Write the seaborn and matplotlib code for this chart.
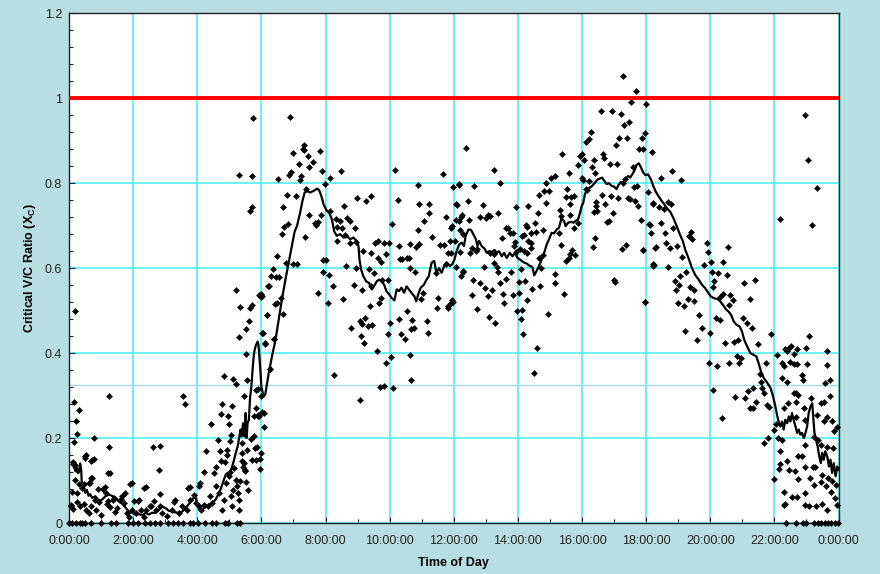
import pandas as pd
import numpy as np
import seaborn as sns
import matplotlib
matplotlib.use('Agg')
import matplotlib.pyplot as plt
from matplotlib.ticker import MultipleLocator, FuncFormatter

# scatter readings (hour of day, critical v/c ratio)
night = [
    (0.18, 0.50), (0.16, 0.285), (0.22, 0.24), (0.32, 0.265), (0.25, 0.21), (0.17, 0.19), (0.14, 0.14),
    (0.52, 0.16), (0.78, 0.20), (0.78, 0.15), (1.24, 0.30), (1.24, 0.178), (1.28, 0.117), (0.72, 0.107),
    (0.61, 0.094), (0.09, 0.072), (0.11, 0.143), (0.20, 0.136), (0.26, 0.125), (0.20, 0.102), (0.30, 0.092),
    (0.39, 0.082), (0.25, 0.071), (0.07, 0.043), (0.14, 0.033), (0.25, 0.049), (0.35, 0.041), (0.46, 0.045),
    (0.54, 0.031), (0.61, 0.024), (0.68, 0.039), (0.80, 0.055), (0.84, 0.031), (0.93, 0.049), (1.01, 0.020),
    (1.06, 0.080), (1.14, 0.071), (1.21, 0.051), (1.27, 0.038), (1.36, 0.055), (1.43, 0.027), (1.50, 0.035),
    (1.66, 0.064), (1.73, 0.047), (1.81, 0.024), (1.86, 0.014), (1.95, 0.031), (2.02, 0.051), (2.09, 0.024),
    (2.18, 0.053), (2.26, 0.031), (2.33, 0.014), (2.41, 0.031), (2.52, 0.039), (2.65, 0.051), (2.70, 0.031),
    (2.83, 0.041), (2.90, 0.024), (3.06, 0.016), (3.20, 0.031), (3.32, 0.053), (3.43, 0.024), (3.53, 0.039),
    (3.69, 0.031), (3.76, 0.055), (3.90, 0.067), (3.97, 0.047), (4.05, 0.039), (4.13, 0.030), (4.21, 0.043),
    (4.34, 0.039), (4.39, 0.063), (4.47, 0.047), (0.72, 0.149), (0.51, 0.158), (0.64, 0.093), (0.91, 0.080),
    (1.11, 0.085), (1.21, 0.118), (1.74, 0.071), (1.95, 0.094), (2.39, 0.085), (2.61, 0.178), (2.83, 0.182),
    (2.82, 0.125), (2.85, 0.069), (3.56, 0.30), (3.61, 0.28), (3.77, 0.085), (4.05, 0.086), (4.10, 0.093),
    (0.05, 0.040), (0.49, 0.154), (0.70, 0.146), (0.47, 0.092), (0.70, 0.106), (1.07, 0.080), (1.17, 0.045),
    (1.40, 0.059), (1.63, 0.057), (1.90, 0.092), (2.34, 0.083), (2.16, 0.052), (2.56, 0.040), (3.28, 0.050),
    (3.72, 0.083),
]
dawn = [
    (4.21, 0.119), (4.26, 0.169), (4.44, 0.233), (4.52, 0.118), (4.59, 0.133), (4.66, 0.195), (4.70, 0.169),
    (4.78, 0.28), (4.75, 0.256), (4.83, 0.345), (4.73, 0.145), (4.86, 0.143), (4.92, 0.161), (4.97, 0.251),
    (4.99, 0.234), (5.04, 0.208), (5.07, 0.275), (5.02, 0.193), (4.94, 0.173), (5.01, 0.119), (5.11, 0.34),
    (5.22, 0.328), (5.15, 0.129), (5.20, 0.102), (5.25, 0.086), (5.32, 0.098), (5.30, 0.031), (5.21, 0.548),
    (5.30, 0.437), (5.34, 0.508), (5.51, 0.456), (5.61, 0.475), (5.64, 0.507), (5.70, 0.514), (5.51, 0.398),
    (5.56, 0.337), (5.47, 0.298), (5.41, 0.188), (5.39, 0.165), (5.41, 0.145), (5.44, 0.133), (5.49, 0.122),
    (5.51, 0.096), (5.59, 0.077), (5.28, 0.071), (5.30, 0.055), (4.59, 0.086), (4.68, 0.071), (4.76, 0.031),
    (4.83, 0.055), (4.89, 0.094), (4.99, 0.11), (5.04, 0.063), (5.07, 0.039), (5.13, 0.077), (5.46, 0.141),
    (5.49, 0.125), (5.54, 0.173), (5.67, 0.198), (5.77, 0.204), (5.80, 0.176), (5.84, 0.149), (5.72, 0.149),
    (5.76, 0.251), (5.82, 0.314), (5.88, 0.251), (5.93, 0.251), (5.93, 0.536), (5.98, 0.533), (5.84, 0.271),
    (5.98, 0.165), (5.96, 0.151), (5.96, 0.127), (5.85, 0.18), (6.07, 0.26), (6.07, 0.227), (6.03, 0.447),
    (6.10, 0.424), (6.16, 0.489), (6.22, 0.558), (6.26, 0.362), (6.43, 0.516), (6.40, 0.433),
    (5.31, 0.82), (5.70, 0.817), (5.70, 0.745), (5.64, 0.735), (5.75, 0.954),
]
morning = [
    (6.89, 0.957), (7.32, 0.89), (7.30, 0.88), (7.34, 0.879), (6.98, 0.87), (7.44, 0.865), (7.60, 0.85),
    (7.82, 0.875), (7.17, 0.845), (7.50, 0.838), (6.92, 0.827), (6.85, 0.819), (7.23, 0.816), (7.20, 0.808),
    (7.89, 0.829), (6.53, 0.81), (8.15, 0.813), (8.47, 0.829), (7.40, 0.787), (7.99, 0.798), (6.79, 0.772),
    (7.07, 0.77), (6.66, 0.744), (7.47, 0.724), (7.85, 0.724), (6.83, 0.705), (6.72, 0.697), (6.63, 0.681),
    (7.66, 0.707), (7.71, 0.702), (7.76, 0.709), (7.37, 0.674), (6.50, 0.628), (6.77, 0.611), (6.98, 0.61),
    (7.10, 0.61), (6.37, 0.597), (6.29, 0.581), (6.46, 0.58), (6.56, 0.58), (6.23, 0.559), (5.98, 0.538),
    (6.02, 0.534), (6.61, 0.529), (6.49, 0.517), (6.18, 0.489), (6.69, 0.491), (7.93, 0.62), (8.01, 0.62),
    (7.92, 0.59), (8.10, 0.584), (8.23, 0.557), (8.08, 0.517), (7.78, 0.541), (8.56, 0.528), (8.27, 0.349),
    (6.38, 0.433), (6.12, 0.422), (6.06, 0.447), (6.28, 0.362), (5.90, 0.315), (6.00, 0.30), (6.02, 0.262),
    (5.90, 0.254), (8.15, 0.735), (8.34, 0.715), (8.59, 0.746), (8.45, 0.71), (8.37, 0.697), (8.51, 0.695),
    (8.67, 0.717), (8.76, 0.712), (8.91, 0.694), (8.61, 0.679), (8.36, 0.664), (8.75, 0.66), (8.95, 0.662),
    (8.97, 0.765), (9.27, 0.757), (9.41, 0.77), (8.65, 0.606), (8.94, 0.60), (9.18, 0.64), (9.43, 0.636),
    (9.54, 0.66), (9.63, 0.663), (9.65, 0.623), (9.84, 0.659), (9.98, 0.659), (9.90, 0.634), (9.74, 0.615),
    (9.35, 0.597), (9.51, 0.588), (9.41, 0.558), (9.15, 0.548), (8.89, 0.561), (9.75, 0.573), (9.95, 0.573),
    (9.39, 0.51), (9.67, 0.517), (9.72, 0.53), (8.81, 0.458), (9.07, 0.476), (9.13, 0.469), (9.24, 0.482),
    (9.34, 0.463), (9.46, 0.465), (9.11, 0.441), (9.19, 0.424), (9.60, 0.404), (9.88, 0.376), (10.04, 0.39),
    (9.82, 0.323), (9.69, 0.32), (10.11, 0.317), (9.09, 0.29), (9.96, 0.445), (10.01, 0.471), (10.07, 0.705),
    (10.18, 0.831), (10.25, 0.761), (10.30, 0.48), (10.36, 0.446), (10.48, 0.434), (10.55, 0.50), (10.62, 0.396),
    (10.67, 0.337), (10.69, 0.478), (10.66, 0.456), (10.76, 0.459), (10.32, 0.622), (10.40, 0.622), (10.54, 0.623),
    (10.60, 0.623), (10.29, 0.652), (10.63, 0.658), (10.65, 0.60), (10.78, 0.59), (10.83, 0.65), (10.93, 0.658),
    (10.88, 0.689), (10.90, 0.795), (10.93, 0.752), (10.98, 0.528), (11.05, 0.542), (11.17, 0.475), (11.20, 0.447),
    (11.08, 0.711), (11.22, 0.75), (11.24, 0.731), (11.31, 0.674), (11.46, 0.589), (11.49, 0.506), (11.52, 0.529),
    (11.58, 0.654), (11.70, 0.654), (11.68, 0.822), (11.75, 0.72), (11.81, 0.636), (11.77, 0.609), (11.88, 0.665),
    (11.92, 0.694), (11.95, 0.526), (11.82, 0.51), (11.99, 0.79),
]
midday = [
    (12.16, 0.795), (12.06, 0.75), (12.08, 0.713), (12.23, 0.72), (12.29, 0.68), (12.30, 0.592),
    (12.39, 0.884), (13.27, 0.831), (13.44, 0.80), (12.17, 0.798), (12.62, 0.794), (12.09, 0.749), (12.43, 0.757),
    (12.90, 0.749), (12.82, 0.721), (13.07, 0.726), (13.13, 0.723), (13.02, 0.719), (13.37, 0.731), (12.27, 0.724),
    (12.48, 0.713), (12.15, 0.711), (11.94, 0.699), (12.18, 0.69), (13.93, 0.745), (14.33, 0.746), (14.24, 0.702),
    (14.27, 0.698), (14.53, 0.707), (14.62, 0.729), (13.70, 0.695), (13.76, 0.683), (13.85, 0.683), (14.19, 0.677),
    (14.55, 0.685), (14.42, 0.66), (14.79, 0.689), (14.67, 0.772), (14.83, 0.782), (14.88, 0.753), (14.97, 0.782),
    (14.89, 0.80), (15.03, 0.812), (15.16, 0.817), (15.37, 0.869), (15.60, 0.824), (15.54, 0.787), (15.50, 0.768),
    (15.67, 0.768), (15.74, 0.769), (15.64, 0.75), (15.31, 0.737), (15.36, 0.723), (15.63, 0.724), (15.29, 0.683),
    (15.76, 0.695), (15.86, 0.707), (14.14, 0.676), (14.41, 0.648), (14.18, 0.64), (14.30, 0.635), (14.08, 0.646),
    (14.66, 0.624), (14.77, 0.632), (14.72, 0.60), (15.35, 0.654), (15.62, 0.634), (15.70, 0.642), (15.49, 0.617),
    (15.58, 0.624), (15.78, 0.63), (15.16, 0.587), (15.16, 0.565), (15.44, 0.54), (14.95, 0.491), (14.69, 0.557),
    (14.45, 0.552), (14.22, 0.569), (14.30, 0.524), (14.04, 0.541), (13.96, 0.498), (14.10, 0.481), (14.14, 0.502),
    (14.16, 0.445), (14.60, 0.412), (14.51, 0.353), (14.03, 0.567), (14.09, 0.597), (13.79, 0.591), (13.62, 0.575),
    (13.84, 0.536), (13.53, 0.539), (13.58, 0.517), (13.44, 0.565), (13.39, 0.591), (13.24, 0.613), (13.34, 0.603),
    (13.18, 0.548), (13.06, 0.535), (12.96, 0.553), (12.81, 0.565), (13.09, 0.485), (13.30, 0.472), (12.60, 0.573),
    (12.56, 0.537), (12.71, 0.505), (12.22, 0.581), (12.30, 0.593), (12.08, 0.602), (11.81, 0.506), (11.92, 0.519),
    (11.98, 0.521), (12.20, 0.638), (11.91, 0.636), (12.04, 0.664), (12.69, 0.64), (12.74, 0.644), (12.51, 0.636),
    (12.56, 0.648), (12.93, 0.602), (13.12, 0.636), (13.24, 0.634), (13.49, 0.67), (13.63, 0.695), (13.91, 0.662),
    (13.94, 0.639), (13.88, 0.652), (14.33, 0.664), (14.41, 0.682),
]
afternoon = [
    (16.23, 0.904), (16.28, 0.921), (16.14, 0.896), (16.00, 0.868), (15.95, 0.865), (15.88, 0.843), (16.07, 0.854),
    (16.30, 0.837), (16.36, 0.854), (16.40, 0.825), (16.60, 0.969), (16.69, 0.859), (16.65, 0.869), (15.99, 0.813),
    (16.04, 0.808), (16.21, 0.805), (16.15, 0.783), (16.11, 0.786), (16.43, 0.756), (16.45, 0.747), (16.48, 0.735),
    (16.36, 0.733), (16.35, 0.65), (16.40, 0.672), (16.61, 0.772), (16.71, 0.752), (16.78, 0.709), (16.83, 0.712),
    (16.90, 0.77), (16.98, 0.73), (16.94, 0.969), (16.88, 0.846), (17.10, 0.846), (17.07, 0.891), (17.16, 0.907),
    (17.21, 0.962), (17.27, 1.053), (17.31, 0.938), (17.39, 0.907), (17.47, 0.944), (17.13, 0.766), (17.24, 0.644),
    (17.38, 0.654), (16.99, 0.572), (17.04, 0.568), (17.43, 0.766), (17.51, 0.762), (17.64, 0.757), (17.62, 0.791),
    (17.70, 0.794), (17.75, 0.747), (17.52, 0.991), (17.69, 1.016), (17.99, 0.987), (17.87, 0.907), (17.96, 0.918),
    (17.78, 0.881), (17.91, 0.881), (18.17, 0.873), (17.85, 0.714), (17.89, 0.643), (17.97, 0.52), (18.07, 0.78),
    (18.10, 0.703), (18.21, 0.753), (18.23, 0.609), (17.29, 0.80), (17.35, 0.81), (17.58, 0.839),
]
evening = [
    (18.21, 0.751), (18.39, 0.744), (18.56, 0.739), (18.67, 0.755), (18.78, 0.75), (17.90, 0.642), (18.13, 0.702),
    (18.15, 0.682), (18.30, 0.649), (18.25, 0.608), (18.47, 0.707), (18.59, 0.682), (18.63, 0.66), (18.73, 0.647),
    (18.85, 0.695), (18.96, 0.651), (18.67, 0.602), (19.41, 0.684), (19.35, 0.675), (19.43, 0.668), (19.11, 0.626),
    (19.24, 0.591), (19.06, 0.582), (19.90, 0.66), (19.92, 0.637), (19.79, 0.608), (20.03, 0.614), (20.40, 0.614),
    (20.54, 0.649), (18.89, 0.569), (18.94, 0.549), (19.03, 0.561), (18.99, 0.518), (19.19, 0.511), (19.30, 0.527),
    (19.50, 0.522), (19.38, 0.555), (19.48, 0.549), (19.66, 0.49), (19.74, 0.459), (19.60, 0.431), (19.22, 0.453),
    (17.98, 0.52), (20.05, 0.59), (20.13, 0.569), (20.24, 0.588), (20.52, 0.584), (20.08, 0.555), (20.29, 0.533),
    (20.40, 0.54), (20.19, 0.482), (20.29, 0.478), (20.00, 0.447), (19.95, 0.376), (20.21, 0.369), (20.08, 0.312),
    (20.38, 0.247), (20.57, 0.514), (20.63, 0.537), (20.71, 0.525), (21.04, 0.566), (21.39, 0.571), (21.24, 0.528),
    (21.02, 0.482), (21.15, 0.472), (21.30, 0.46), (20.47, 0.424), (20.73, 0.427), (20.85, 0.43), (20.83, 0.394),
    (20.97, 0.388), (20.90, 0.376), (20.60, 0.376), (20.76, 0.296), (21.09, 0.294), (21.18, 0.311), (21.32, 0.318),
    (21.25, 0.27), (21.33, 0.27), (21.42, 0.285), (21.48, 0.422), (21.54, 0.351), (21.59, 0.333), (21.75, 0.376),
    (21.60, 0.318), (21.67, 0.306), (21.77, 0.278), (21.84, 0.274), (21.67, 0.188), (21.81, 0.20), (21.88, 0.445),
    (22.08, 0.396), (22.16, 0.715), (23.16, 0.702), (23.08, 0.441), (18.46, 0.813), (18.80, 0.828), (19.10, 0.808),
    (18.27, 0.648), (18.22, 0.606),
]
late = [
    (21.98, 0.22), (22.06, 0.233), (22.11, 0.20), (22.23, 0.196), (21.99, 0.104), (22.19, 0.14), (22.19, 0.169),
    (22.14, 0.127), (22.29, 0.074), (22.32, 0.045), (22.32, 0.409), (22.38, 0.404), (22.46, 0.412), (22.52, 0.417),
    (22.60, 0.398), (22.72, 0.41), (22.98, 0.412), (23.65, 0.406), (22.24, 0.376), (22.29, 0.369), (22.48, 0.378),
    (22.60, 0.375), (22.72, 0.375), (23.03, 0.375), (23.65, 0.373), (22.25, 0.341), (22.40, 0.333), (22.85, 0.349),
    (22.90, 0.337), (23.57, 0.329), (23.73, 0.337), (22.60, 0.306), (22.67, 0.307), (22.75, 0.302), (22.68, 0.286),
    (22.44, 0.282), (23.15, 0.294), (23.44, 0.282), (23.54, 0.284), (23.75, 0.298), (22.31, 0.27), (22.69, 0.249),
    (22.92, 0.27), (22.97, 0.243), (23.33, 0.255), (23.54, 0.239), (23.65, 0.249), (23.80, 0.239), (23.94, 0.227),
    (23.85, 0.216), (22.97, 0.184), (23.23, 0.202), (23.35, 0.196), (23.44, 0.184), (23.65, 0.18), (23.83, 0.176),
    (22.40, 0.147), (22.73, 0.157), (22.85, 0.157), (22.94, 0.133), (22.65, 0.123), (22.75, 0.104), (22.45, 0.124),
    (23.10, 0.106), (23.20, 0.131), (23.28, 0.133), (23.23, 0.09), (23.44, 0.096), (23.49, 0.114), (23.60, 0.088),
    (23.68, 0.106), (23.80, 0.098), (23.93, 0.09), (22.29, 0.043), (22.55, 0.061), (22.71, 0.061), (22.94, 0.043),
    (22.95, 0.071), (23.09, 0.041), (23.30, 0.041), (23.47, 0.045), (23.65, 0.031), (23.78, 0.074), (23.90, 0.059),
    (23.96, 0.043), (22.97, 0.96), (23.06, 0.854), (23.34, 0.788),
]
# intervals with a ratio of zero
zero_t = [0.0, 0.10, 0.23, 0.34, 0.41, 0.49, 0.70, 0.99, 1.32, 1.48, 1.84, 2.00, 2.16, 2.36, 2.52, 2.68, 2.83,
          3.09, 3.25, 3.41, 3.56, 3.77, 3.88, 4.03, 4.24, 4.45, 4.60, 4.86, 4.97, 5.23, 5.33,
          22.36, 22.66, 22.89, 23.00, 23.25, 23.36, 23.46, 23.57, 23.67, 23.78, 23.88, 23.98]

# moving average line
avg = [
    (0.09, 0.143), (0.15, 0.133), (0.20, 0.122), (0.25, 0.128), (0.30, 0.118), (0.35, 0.140), (0.38, 0.125),
    (0.40, 0.094), (0.46, 0.082), (0.51, 0.071), (0.56, 0.078), (0.61, 0.064), (0.66, 0.068), (0.72, 0.059),
    (0.82, 0.063), (0.93, 0.053), (1.03, 0.055), (1.14, 0.063), (1.24, 0.067), (1.34, 0.064), (1.45, 0.059),
    (1.55, 0.051), (1.66, 0.045), (1.76, 0.037), (1.86, 0.027), (1.97, 0.024), (2.07, 0.020), (2.18, 0.021),
    (2.28, 0.018), (2.39, 0.024), (2.49, 0.020), (2.59, 0.024), (2.70, 0.024), (2.80, 0.031), (2.91, 0.039),
    (3.01, 0.035), (3.11, 0.029), (3.22, 0.027), (3.32, 0.025), (3.43, 0.024), (3.53, 0.027), (3.64, 0.035),
    (3.74, 0.045), (3.84, 0.055), (3.93, 0.063), (3.97, 0.055), (4.01, 0.039), (4.07, 0.031), (4.16, 0.033),
    (4.26, 0.037), (4.36, 0.043), (4.47, 0.047), (4.57, 0.055), (4.68, 0.071), (4.76, 0.086), (4.83, 0.102),
    (4.89, 0.114), (4.94, 0.118), (4.99, 0.110), (5.04, 0.122), (5.09, 0.133), (5.15, 0.149), (5.20, 0.165),
    (5.26, 0.180), (5.30, 0.198), (5.35, 0.220), (5.38, 0.204), (5.43, 0.235), (5.47, 0.204), (5.51, 0.259),
    (5.54, 0.200), (5.57, 0.235), (5.61, 0.243), (5.65, 0.298), (5.68, 0.314), (5.72, 0.353), (5.75, 0.384),
    (5.78, 0.404), (5.82, 0.416), (5.88, 0.427), (5.91, 0.420), (5.96, 0.369), (6.00, 0.321), (6.07, 0.298),
    (6.12, 0.302), (6.23, 0.353), (6.33, 0.392), (6.44, 0.431), (6.54, 0.479), (6.64, 0.526), (6.75, 0.573),
    (6.85, 0.613), (6.95, 0.652), (7.04, 0.687), (7.11, 0.699), (7.21, 0.731), (7.28, 0.758), (7.35, 0.778),
    (7.42, 0.782), (7.52, 0.778), (7.63, 0.782), (7.73, 0.787), (7.80, 0.784), (7.87, 0.770), (7.94, 0.750),
    (8.04, 0.735), (8.11, 0.731), (8.20, 0.715), (8.27, 0.687), (8.35, 0.676), (8.46, 0.680), (8.56, 0.672),
    (8.66, 0.676), (8.77, 0.668), (8.87, 0.672), (8.97, 0.664), (9.03, 0.652), (9.06, 0.620), (9.11, 0.597),
    (9.18, 0.581), (9.27, 0.569), (9.36, 0.565), (9.44, 0.550), (9.51, 0.557), (9.60, 0.569), (9.67, 0.573),
    (9.75, 0.569), (9.83, 0.561), (9.90, 0.546), (9.99, 0.538), (10.06, 0.530), (10.15, 0.524), (10.22, 0.550),
    (10.29, 0.546), (10.37, 0.554), (10.45, 0.542), (10.53, 0.557), (10.60, 0.550), (10.68, 0.542), (10.77, 0.534),
    (10.83, 0.522), (10.89, 0.538), (10.97, 0.554), (11.07, 0.561), (11.15, 0.573), (11.22, 0.581), (11.31, 0.613),
    (11.39, 0.617), (11.46, 0.589), (11.54, 0.600), (11.62, 0.589), (11.70, 0.605), (11.79, 0.613), (11.88, 0.605),
    (11.95, 0.609), (12.02, 0.620), (12.09, 0.640), (12.17, 0.656), (12.25, 0.660), (12.32, 0.652), (12.37, 0.676),
    (12.46, 0.691), (12.54, 0.690), (12.61, 0.680), (12.69, 0.668), (12.74, 0.652), (12.79, 0.664), (12.87, 0.652),
    (12.96, 0.646), (13.03, 0.636), (13.10, 0.640), (13.18, 0.638), (13.27, 0.643), (13.34, 0.636), (13.41, 0.640),
    (13.50, 0.628), (13.57, 0.636), (13.65, 0.624), (13.75, 0.636), (13.83, 0.628), (13.91, 0.636), (13.99, 0.624),
    (14.07, 0.620), (14.17, 0.614), (14.27, 0.611), (14.38, 0.605), (14.45, 0.603), (14.51, 0.583), (14.59, 0.595),
    (14.66, 0.605), (14.74, 0.620), (14.82, 0.636), (14.90, 0.656), (14.97, 0.668), (15.05, 0.683), (15.13, 0.682),
    (15.21, 0.691), (15.28, 0.695), (15.36, 0.717), (15.44, 0.711), (15.49, 0.699), (15.57, 0.707), (15.66, 0.709),
    (15.73, 0.707), (15.80, 0.711), (15.88, 0.715), (15.94, 0.731), (15.99, 0.746), (16.04, 0.754), (16.09, 0.774),
    (16.17, 0.786), (16.25, 0.790), (16.32, 0.794), (16.41, 0.802), (16.49, 0.809), (16.56, 0.811), (16.63, 0.813),
    (16.69, 0.806), (16.77, 0.798), (16.84, 0.800), (16.92, 0.794), (17.00, 0.792), (17.08, 0.786), (17.13, 0.795),
    (17.21, 0.803), (17.29, 0.800), (17.36, 0.809), (17.44, 0.817), (17.50, 0.813), (17.57, 0.821), (17.63, 0.829),
    (17.70, 0.843), (17.77, 0.847), (17.84, 0.837), (17.91, 0.825), (17.98, 0.819), (18.06, 0.821), (18.15, 0.809),
    (18.22, 0.794), (18.30, 0.780), (18.38, 0.770), (18.46, 0.761), (18.54, 0.753), (18.65, 0.741), (18.75, 0.733),
    (18.85, 0.718), (18.96, 0.698), (19.06, 0.678), (19.15, 0.663), (19.22, 0.643), (19.32, 0.624), (19.43, 0.600),
    (19.53, 0.584), (19.64, 0.573), (19.74, 0.561), (19.84, 0.553), (19.95, 0.541), (20.02, 0.533), (20.13, 0.529),
    (20.23, 0.527), (20.31, 0.522), (20.42, 0.511), (20.50, 0.502), (20.57, 0.498), (20.65, 0.490), (20.73, 0.475),
    (20.81, 0.467), (20.91, 0.463), (20.99, 0.451), (21.06, 0.431), (21.15, 0.416), (21.25, 0.400), (21.35, 0.396),
    (21.44, 0.392), (21.51, 0.376), (21.58, 0.357), (21.67, 0.341), (21.77, 0.331), (21.88, 0.318), (21.96, 0.298),
    (22.03, 0.275), (22.08, 0.255), (22.14, 0.237), (22.19, 0.227), (22.24, 0.239), (22.29, 0.220), (22.34, 0.243),
    (22.40, 0.235), (22.45, 0.251), (22.50, 0.239), (22.55, 0.259), (22.60, 0.243), (22.66, 0.227), (22.71, 0.212),
    (22.76, 0.220), (22.81, 0.208), (22.86, 0.212), (22.92, 0.200), (22.97, 0.212), (23.02, 0.227), (23.07, 0.259),
    (23.13, 0.275), (23.18, 0.282), (23.21, 0.251), (23.25, 0.212), (23.30, 0.196), (23.35, 0.180), (23.40, 0.157),
    (23.45, 0.141), (23.49, 0.165), (23.54, 0.149), (23.59, 0.169), (23.65, 0.157), (23.70, 0.133), (23.75, 0.149),
    (23.80, 0.118), (23.85, 0.141), (23.91, 0.110), (23.96, 0.133), (24.00, 0.125),
]
critical_limit = 1.0
x_ticks = list(range(0, 25, 2))
x_labels = ['%d:00:00' % (h % 24) for h in x_ticks]

pts = night + dawn + morning + midday + afternoon + evening + late + [(t, 0.0) for t in zero_t]
pts_df = pd.DataFrame(pts, columns=['time', 'vc'])
avg_df = pd.DataFrame(avg, columns=['time', 'vc'])

plt.rcParams['font.family'] = ['Liberation Sans', 'DejaVu Sans']
plt.rcParams['mathtext.fontset'] = 'custom'
plt.rcParams['mathtext.rm'] = 'Liberation Sans'
plt.rcParams['mathtext.bf'] = 'Liberation Sans:bold'

fig = plt.figure(figsize=(8.8, 5.74), dpi=100, facecolor='#b9dee1')
ax = fig.add_axes([69 / 880, 1 - 523 / 574, (838.5 - 69) / 880, (523 - 13.3) / 574])
ax.set_facecolor('white')

ax.axhline(0.325, color='#a8d8dc', lw=1.0, zorder=1)
sns.scatterplot(data=pts_df, x='time', y='vc', marker='D', color='black', s=10,
                edgecolor='black', linewidth=0.3, clip_on=False, zorder=3, ax=ax)
ax.axhline(critical_limit, color='#ff0000', lw=2.8, zorder=4)
sns.lineplot(data=avg_df, x='time', y='vc', color='black', lw=1.6, estimator=None,
             sort=False, zorder=5, ax=ax)

ax.set_xlim(0, 24)
ax.set_ylim(0, 1.2)
ax.set_xticks(x_ticks)
ax.set_xticklabels(x_labels)
ax.xaxis.set_minor_locator(MultipleLocator(1))
ax.yaxis.set_major_locator(MultipleLocator(0.2))
ax.yaxis.set_minor_locator(MultipleLocator(0.04))
ax.yaxis.set_major_formatter(FuncFormatter(lambda v, p: '%g' % round(v, 2)))

ax.grid(which='major', color='#3ef0f0', lw=1.1, zorder=0)
ax.set_axisbelow(True)
ax.tick_params(which='both', direction='in', colors='#222222', labelsize=9)
ax.tick_params(which='major', length=4, width=0.8)
ax.tick_params(which='minor', length=3, width=0.8)
ax.tick_params(axis='x', pad=9)
ax.tick_params(axis='y', pad=5)
for sp in ax.spines.values():
    sp.set_color('#222222')
    sp.set_linewidth(1.0)

ax.set_xlabel('Time of Day', fontsize=9, fontweight='bold', labelpad=7)
ax.set_ylabel(r'Critical V/C Ratio (X$_\mathbf{C}$)', fontsize=9, fontweight='bold', labelpad=5)

fig.savefig('out.png', dpi=100, facecolor=fig.get_facecolor())
